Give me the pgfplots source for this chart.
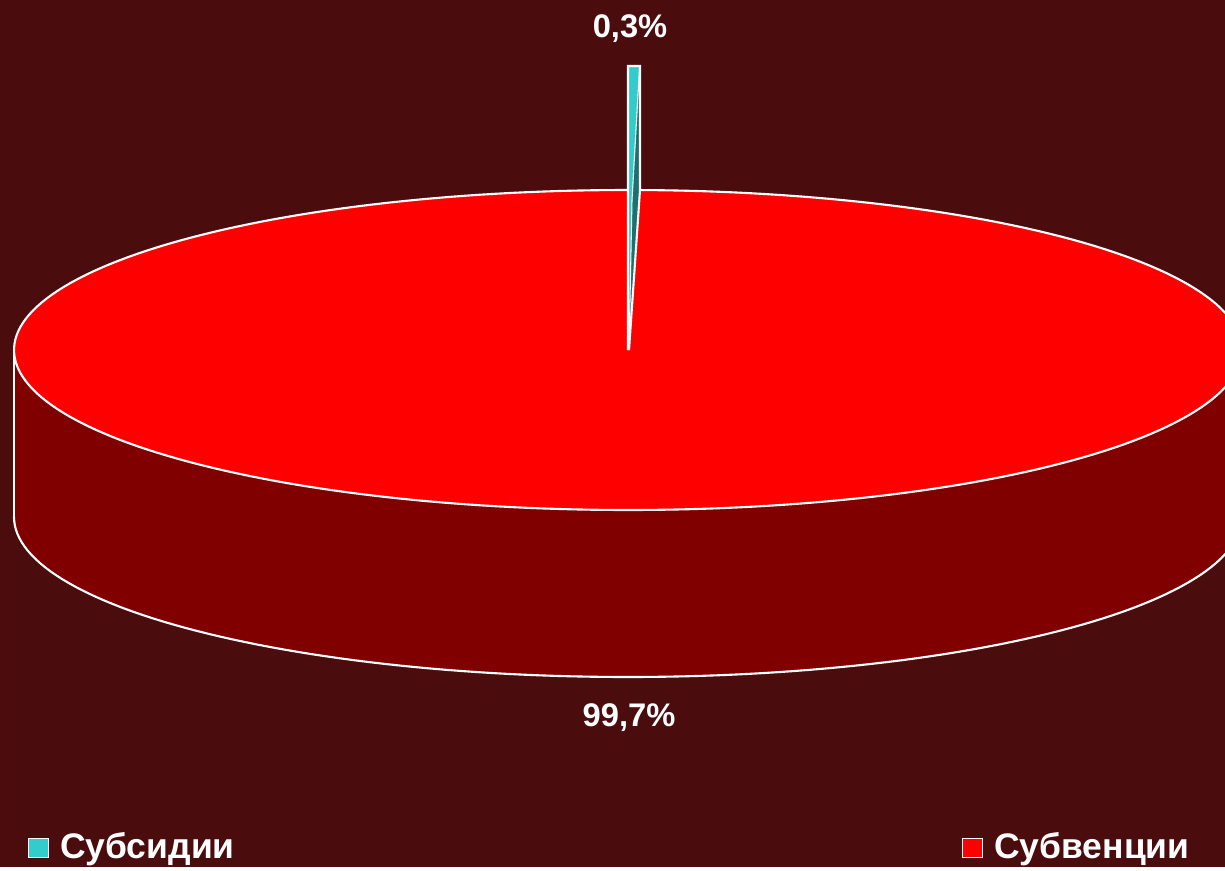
\documentclass[border=0pt]{standalone}
\usepackage{pgfplots}
\pgfplotsset{compat=1.18}
\usepackage{fontspec}
\setmainfont{Liberation Sans}
\definecolor{bg}{RGB}{75,12,14}
\definecolor{topred}{RGB}{255,0,0}
\definecolor{sidered}{RGB}{128,0,0}
\definecolor{cyanA}{RGB}{51,204,204}
\definecolor{tealB}{RGB}{30,112,112}
\begin{document}
\begin{tikzpicture}
\begin{axis}[
  scale only axis, width=12.25cm, height=8.67cm,
  xmin=0, xmax=1225, ymin=0, ymax=867,
  axis lines=none, clip=true,
  axis background/.style={fill=bg},
  legend columns=2,
  legend style={at={(axis cs:27,19)}, anchor=west, draw=none, fill=none,
    text=white, font=\fontsize{10.1}{12}\selectfont\bfseries, inner sep=0pt,
    /tikz/every odd column/.append style={column sep=0.04cm},
    /tikz/every even column/.append style={column sep=7.20cm}},
  legend image code/.code={\draw[#1,draw=white,line width=0.4pt] (0cm,-0.095cm) rectangle (0.2cm,0.095cm);},
]
% side of the pie (99,7 %)
\addplot[forget plot, fill=sidered, draw=none] coordinates {(14,350) (1242,350) (1242,517) (14,517)} \closedcycle;
\addplot[forget plot, fill=sidered, draw=none, domain=180:360, samples=120]
  ({628+614*cos(x)},{350+160*sin(x)}) -- cycle;
\addplot[forget plot, draw=white, line width=0.6pt, domain=180:360, samples=120]
  ({628+614*cos(x)},{350+160*sin(x)});
\addplot[forget plot, draw=white, line width=0.6pt] coordinates {(14,350) (14,517)};
% top face
\addplot[forget plot, fill=topred, draw=white, line width=0.6pt, domain=0:360, samples=240]
  ({628+614*cos(x)},{517+160*sin(x)}) -- cycle;
% exploded slice (0,3 %)
\addplot[forget plot, fill=cyanA, draw=none] coordinates {(628,801) (640,801) (640,677) (629,517) (628,517)} -- cycle;
\addplot[forget plot, fill=tealB, draw=none] coordinates {(639.5,799) (640,677) (629,517) (632,667)} -- cycle;
\addplot[forget plot, draw=white, line width=0.6pt] coordinates {(628,517) (628,801) (640,801) (640,677) (629,517)};
\addplot[forget plot, draw=white, line width=0.3pt] coordinates {(639.5,799) (632,667) (629,517)};
% legend entries
\addlegendimage{fill=cyanA}
\addlegendentry{Субсидии}
\addlegendimage{fill=topred}
\addlegendentry{Субвенции}
% labels
\node[text=white, font=\fontsize{9.3}{11}\selectfont\bfseries] at (axis cs:630,838) {0,3\%};
\node[text=white, font=\fontsize{9.3}{11}\selectfont\bfseries] at (axis cs:629,149) {99,7\%};
\end{axis}
\end{tikzpicture}
\end{document}
